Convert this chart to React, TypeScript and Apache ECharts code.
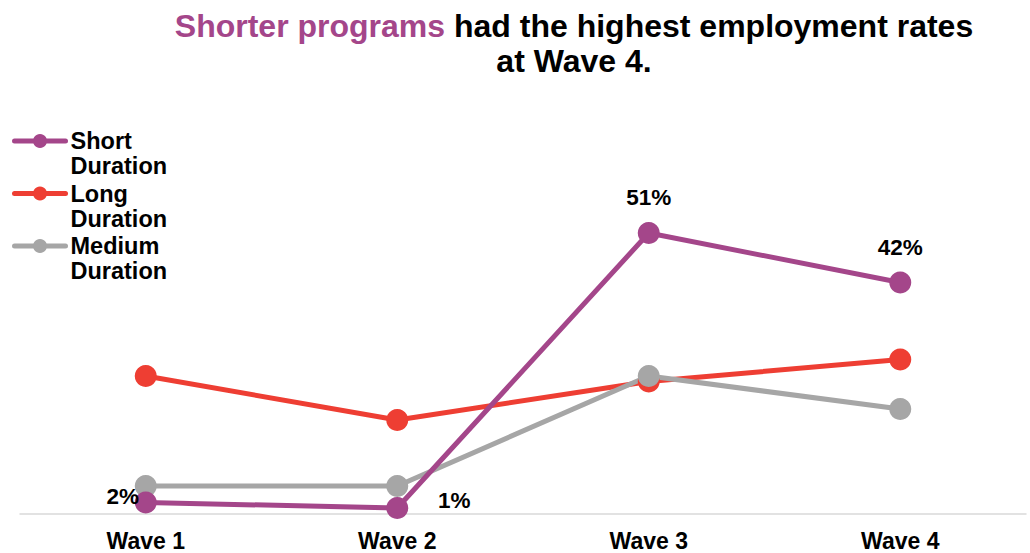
import React, { useEffect, useRef } from "react";
import * as echarts from "echarts";

const categories = ["Wave 1", "Wave 2", "Wave 3", "Wave 4"];
const shortDuration = [2, 1, 51, 42];
const longDuration = [25, 17, 24, 28];
const mediumDuration = [5, 5, 25, 19];
const seriesNames = ["Short Duration", "Long Duration", "Medium Duration"];
const shortLabelOffsets: [number, number][] = [
  [-23, -6],
  [57, -8],
  [0, -36],
  [0, -35],
];

const FONT = "'Liberation Sans', Arial, sans-serif";
const PURPLE = "#A4468A";
const RED = "#EE3E33";
const GRAY = "#A6A6A6";

export default function App() {
  const ref = useRef<HTMLDivElement>(null);
  useEffect(() => {
    document.body.style.margin = "0";
    if (!ref.current) return;
    const chart = echarts.init(ref.current, undefined, { renderer: "svg" });
    const labelStyle = {
      fontFamily: FONT,
      fontSize: 22.5,
      fontWeight: "bold" as const,
      color: "#000",
    };
    chart.setOption({
      animation: false,
      title: {
        text: "{p|Shorter programs} had the highest employment rates\nat Wave 4.",
        left: 574,
        top: 8,
        padding: 0,
        textAlign: "center",
        textStyle: {
          fontFamily: FONT,
          fontSize: 32,
          fontWeight: "bold",
          color: "#000",
          lineHeight: 35,
          rich: {
            p: {
              fontFamily: FONT,
              fontSize: 32,
              fontWeight: "bold",
              color: PURPLE,
              lineHeight: 35,
            },
          },
        },
      },
      legend: {
        orient: "vertical",
        left: 12,
        top: 103.5,
        padding: 0,
        itemGap: -22.5,
        itemWidth: 51,
        itemHeight: 17.5,
        data: seriesNames,
        formatter: (name: string) => "\n" + name.replace(" ", "\n"),
        lineStyle: { width: 5, cap: "round" },
        textStyle: {
          fontFamily: FONT,
          fontSize: 23.5,
          fontWeight: "bold",
          color: "#000",
          lineHeight: 25,
        },
      },
      grid: { left: 20, right: 4, top: 183.5, bottom: 39.5 },
      xAxis: {
        type: "category",
        data: categories,
        boundaryGap: true,
        axisLine: { lineStyle: { color: "#D9D9D9", width: 1.5 } },
        axisTick: { show: false },
        axisLabel: { ...labelStyle, fontSize: 23, margin: 16 },
      },
      yAxis: {
        type: "value",
        min: 0,
        max: 60,
        show: false,
        splitLine: { show: false },
      },
      series: [
        {
          name: seriesNames[0],
          type: "line",
          data: shortDuration.map((v, i) => ({
            value: v,
            label: { offset: shortLabelOffsets[i] },
          })),
          symbol: "circle",
          symbolSize: 22,
          color: PURPLE,
          lineStyle: { width: 5, color: PURPLE },
          z: 3,
          label: {
            show: true,
            position: "inside",
            formatter: "{c}%",
            ...labelStyle,
          },
        },
        {
          name: seriesNames[1],
          type: "line",
          data: longDuration,
          symbol: "circle",
          symbolSize: 22,
          color: RED,
          lineStyle: { width: 5, color: RED },
          z: 2,
        },
        {
          name: seriesNames[2],
          type: "line",
          data: mediumDuration,
          symbol: "circle",
          symbolSize: 22,
          color: GRAY,
          lineStyle: { width: 5, color: GRAY },
          z: 2,
        },
      ],
    });
    return () => chart.dispose();
  }, []);
  return <div ref={ref} style={{ width: 1030, height: 553 }} />;
}
